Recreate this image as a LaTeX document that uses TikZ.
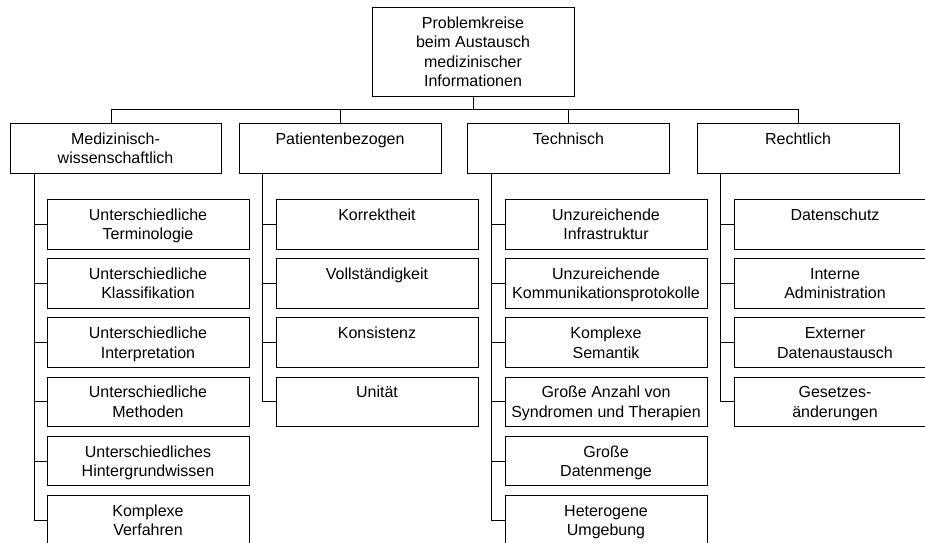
\documentclass[tikz,border=0pt]{standalone}
\usepackage{fontspec}
\setmainfont{Liberation Sans}
\tikzset{
  boxst/.style={draw, line width=1pt, inner sep=0pt, anchor=north, minimum height=49.5pt},
  txtst/.style={anchor=north, align=center, inner sep=0pt, font=\fontsize{16}{19.5}\selectfont},
  conn/.style={line width=1pt}
}
\newcommand\mkbox[5]{% name, cx, top, width, text
  \node[boxst, minimum width=#4pt] (#1) at (#2,#3) {};
  \node[txtst] (#1t) at ([yshift=-7.35pt]#1.north) {\strut #5};}
\begin{document}
\begin{tikzpicture}[x=1pt,y=-1pt]
\clip (0,0) rectangle (925,542);
\fill[white] (0,0) rectangle (925,542);
% root
\node[boxst, minimum width=202pt, minimum height=89pt] (root) at (473,7) {};
\node[txtst] (roott) at ([yshift=-7.35pt]root.north) {\strut Problemkreise\\beim Austausch\\medizinischer\\Informationen};
% level 1
\mkbox{A}{115.5}{123}{211}{Medizinisch-\\wissenschaftlich}
\mkbox{B}{340}{123}{202}{Patientenbezogen}
\mkbox{C}{568.5}{123}{202}{Technisch}
\mkbox{D}{798}{123}{202}{Rechtlich}
\coordinate (hub) at (473,109);
\draw[conn] (root.south) -- (hub);
\draw[conn] (hub) -| ([xshift=-4.5pt]A.north);
\draw[conn] (hub) -| (B.north);
\draw[conn] (hub) -| (C.north);
\draw[conn] (hub) -| (D.north);
% column 1
\mkbox{a1}{148}{199}{202}{Unterschiedliche\\Terminologie}
\mkbox{a2}{148}{258.2}{202}{Unterschiedliche\\Klassifikation}
\mkbox{a3}{148}{317.4}{202}{Unterschiedliche\\Interpretation}
\mkbox{a4}{148}{376.6}{202}{Unterschiedliche\\Methoden}
\mkbox{a5}{148}{435.8}{202}{Unterschiedliches\\Hintergrundwissen}
\mkbox{a6}{148}{495}{202}{Komplexe\\Verfahren}
% column 2
\mkbox{b1}{377}{199}{202}{Korrektheit}
\mkbox{b2}{377}{258.2}{202}{Vollständigkeit}
\mkbox{b3}{377}{317.4}{202}{Konsistenz}
\mkbox{b4}{377}{376.6}{202}{Unität}
% column 3
\mkbox{c1}{606}{199}{202}{Unzureichende\\Infrastruktur}
\mkbox{c2}{606}{258.2}{202}{Unzureichende\\Kommunikationsprotokolle}
\mkbox{c3}{606}{317.4}{202}{Komplexe\\Semantik}
\mkbox{c4}{606}{376.6}{202}{Große Anzahl von\\Syndromen und Therapien}
\mkbox{c5}{606}{435.8}{202}{Große\\Datenmenge}
\mkbox{c6}{606}{495}{202}{Heterogene\\Umgebung}
% column 4
\mkbox{d1}{835}{199}{202}{Datenschutz}
\mkbox{d2}{835}{258.2}{202}{Interne\\Administration}
\mkbox{d3}{835}{317.4}{202}{Externer\\Datenaustausch}
\mkbox{d4}{835}{376.6}{202}{Gesetzes-\\änderungen}
% spines
\coordinate (sa) at ([xshift=25pt]A.south west);
\coordinate (sb) at ([xshift=24pt]B.south west);
\coordinate (sc) at ([xshift=24.5pt]C.south west);
\coordinate (sd) at ([xshift=24pt]D.south west);
\draw[conn] (sa) |- (a6.west);
\foreach \i in {1,...,5} \draw[conn] (a\i.west) -- (a\i.west -| sa);
\draw[conn] (sb) |- (b4.west);
\foreach \i in {1,...,3} \draw[conn] (b\i.west) -- (b\i.west -| sb);
\draw[conn] (sc) |- (c6.west);
\foreach \i in {1,...,5} \draw[conn] (c\i.west) -- (c\i.west -| sc);
\draw[conn] (sd) |- (d4.west);
\foreach \i in {1,...,3} \draw[conn] (d\i.west) -- (d\i.west -| sd);
\end{tikzpicture}
\end{document}
